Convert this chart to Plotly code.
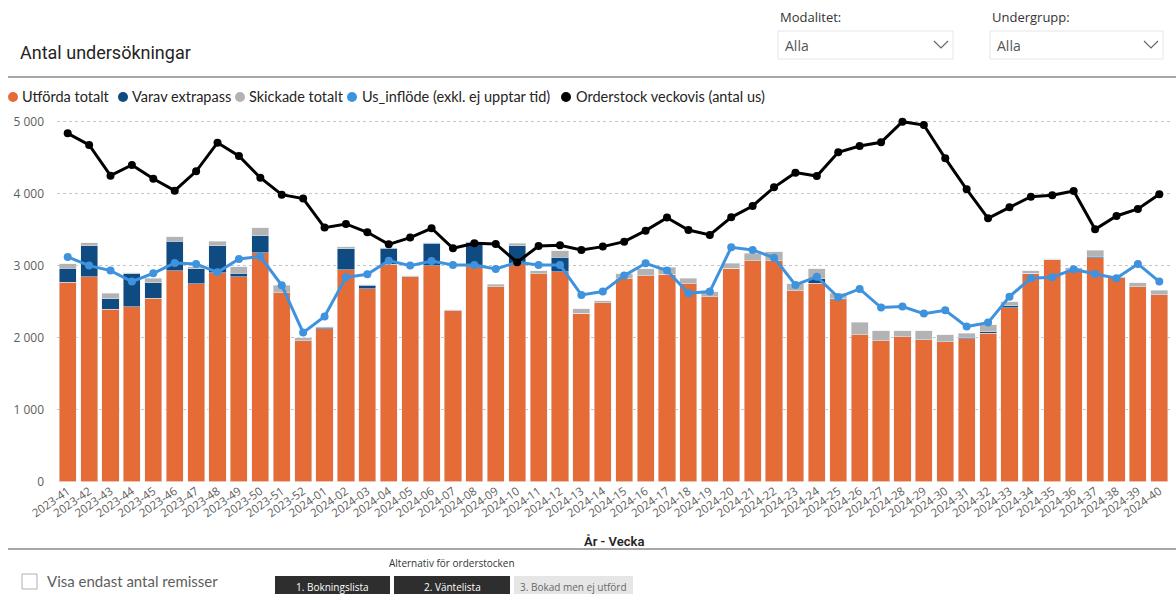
import plotly.graph_objects as go

W, H = 1176, 594

weeks = ["2023-41", "2023-42", "2023-43", "2023-44", "2023-45", "2023-46", "2023-47", "2023-48",
         "2023-49", "2023-50", "2023-51", "2023-52",
         "2024-01", "2024-02", "2024-03", "2024-04", "2024-05", "2024-06", "2024-07", "2024-08",
         "2024-09", "2024-10", "2024-11", "2024-12", "2024-13", "2024-14", "2024-15", "2024-16",
         "2024-17", "2024-18", "2024-19", "2024-20", "2024-21", "2024-22", "2024-23", "2024-24",
         "2024-25", "2024-26", "2024-27", "2024-28", "2024-29", "2024-30", "2024-31", "2024-32",
         "2024-33", "2024-34", "2024-35", "2024-36", "2024-37", "2024-38", "2024-39", "2024-40"]

utforda = [2770, 2847, 2394, 2431, 2546, 2931, 2750, 2898, 2843, 3176, 2625, 1954,
           2125, 2940, 2676, 3019, 2847, 3000, 2370, 2986, 2708, 3032, 2884, 2917,
           2338, 2481, 2815, 2861, 2880, 2745, 2569, 2963, 3065, 3065, 2653, 2755,
           2523, 2037, 1958, 2014, 1968, 1944, 1981, 2060, 2417, 2894, 3088, 2926,
           3111, 2833, 2708, 2597]

extrapass = [193, 431, 143, 453, 213, 407, 204, 380, 51, 236, 0, 0,
             19, 291, 51, 222, 0, 310, 0, 338, 0, 246, 0, 199,
             0, 0, 0, 0, 0, 0, 0, 0, 0, 0, 0, 60,
             19, 0, 0, 0, 0, 0, 24, 23, 27, 0, 0, 0,
             19, 0, 0, 0]

skickade = [60, 41, 79, 15, 65, 65, 32, 60, 92, 111, 102, 46,
            9, 33, 5, 9, 14, 5, 14, 5, 33, 32, 47, 92,
            60, 33, 69, 93, 97, 79, 70, 69, 106, 129, 92, 143,
            74, 176, 135, 79, 129, 93, 55, 93, 51, 37, 9, 46,
            83, 9, 56, 60]

inflode = [3120, 3000, 2931, 2778, 2894, 3037, 3023, 2907, 3093, 3125, 2727, 2069,
           2292, 2838, 2880, 3069, 3000, 3065, 3009, 3009, 2954, 3046, 3009, 3009,
           2593, 2639, 2861, 3032, 2931, 2616, 2639, 3255, 3218, 3111, 2731, 2847,
           2560, 2676, 2417, 2431, 2333, 2380, 2153, 2208, 2569, 2824, 2838, 2949,
           2884, 2824, 3023, 2778]

orderstock = [4838, 4676, 4250, 4398, 4208, 4042, 4310, 4708, 4523, 4222, 3986, 3931,
              3528, 3579, 3463, 3296, 3389, 3519, 3241, 3310, 3301, 3046, 3273, 3282,
              3218, 3264, 3333, 3486, 3667, 3495, 3426, 3671, 3829, 4088, 4292, 4245,
              4574, 4662, 4713, 5000, 4954, 4491, 4060, 3657, 3810, 3958, 3977, 4037,
              3505, 3690, 3787, 3991]

y_ticks = [0, 1000, 2000, 3000, 4000, 5000]
y_tick_text = ["0", "1 000", "2 000", "3 000", "4 000", "5 000"]

series_names = ["Utförda totalt", "Varav extrapass", "Skickade totalt",
                "Us_inflöde (exkl. ej upptar tid)", "Orderstock veckovis (antal us)"]
colors = ["#E66C37", "#0F4A80", "#B3B3B3", "#3F93DE", "#000000"]

FONT = "Open Sans"
LEG_FONT = "Lato"
TICK_COLOR = "#605E5C"
TEXT_DARK = "#252423"


def X(px):
    return px / W


def Y(py):
    return 1 - py / H


fig = go.Figure()
fig.add_trace(go.Bar(x=weeks, y=utforda, name=series_names[0], marker_color=colors[0]))
fig.add_trace(go.Bar(x=weeks, y=extrapass, name=series_names[1], marker_color=colors[1]))
fig.add_trace(go.Bar(x=weeks, y=skickade, name=series_names[2], marker_color=colors[2]))
fig.add_trace(go.Scatter(x=weeks, y=inflode, name=series_names[3], mode="lines+markers",
                         line=dict(color=colors[3], width=3), marker=dict(size=8, color=colors[3])))
fig.add_trace(go.Scatter(x=weeks, y=orderstock, name=series_names[4], mode="lines+markers",
                         line=dict(color=colors[4], width=3), marker=dict(size=8, color=colors[4])))

y_top_px, y_bot_px = 114.5, 481.5
fig.update_layout(
    width=W, height=H, autosize=False,
    margin=dict(l=0, r=0, t=0, b=0, autoexpand=False),
    paper_bgcolor="white", plot_bgcolor="white",
    barmode="stack", bargap=0.2,
    showlegend=False,
    font=dict(family=FONT, color=TEXT_DARK),
    xaxis=dict(type="category", domain=[X(57), X(1170)], range=[-0.5, len(weeks) - 0.5],
               tickangle=-35, automargin=False,
               tickfont=dict(size=11.5, color=TICK_COLOR, family=FONT),
               showgrid=False, showline=False, ticks="", anchor="y"),
    yaxis=dict(domain=[Y(y_bot_px), Y(y_top_px)], range=[0, 5100], automargin=False,
               tickvals=y_ticks, ticktext=y_tick_text,
               tickfont=dict(size=12, color=TICK_COLOR, family=FONT),
               showgrid=True, gridcolor="#C8C6C4", griddash="dot", gridwidth=1,
               zeroline=False, showline=False, ticks="", ticklabelstandoff=12),
)

shapes = []
annotations = []

# title
annotations.append(dict(x=X(18), y=Y(52), xref="paper", yref="paper", xanchor="left", yanchor="middle",
                        text="Antal undersökningar", showarrow=False,
                        font=dict(size=18, color=TEXT_DARK, family="Roboto")))

# slicers
for label, x0, x1 in [("Modalitet:", 778, 953), ("Undergrupp:", 990, 1163)]:
    annotations.append(dict(x=X(x0), y=Y(17), xref="paper", yref="paper", xanchor="left", yanchor="middle",
                            text=label, showarrow=False, font=dict(size=13, color="#333333", family=FONT)))
    shapes.append(dict(type="rect", xref="paper", yref="paper", x0=X(x0), x1=X(x1), y0=Y(59), y1=Y(31),
                       line=dict(color="#E6E6E6", width=1), fillcolor="white"))
    annotations.append(dict(x=X(x0 + 5), y=Y(46), xref="paper", yref="paper", xanchor="left", yanchor="middle",
                            text="Alla", showarrow=False, font=dict(size=14, color="#555555", family=FONT)))
    cx = x1 - 12
    shapes.append(dict(type="path", xref="paper", yref="paper",
                       path=f"M {X(cx-7)} {Y(41)} L {X(cx)} {Y(48)} L {X(cx+7)} {Y(41)}",
                       line=dict(color="#666666", width=1.2)))

# separator lines
for yy in (77, 549):
    shapes.append(dict(type="line", xref="paper", yref="paper", x0=X(8), x1=X(1176), y0=Y(yy), y1=Y(yy),
                       line=dict(color="#8A8A8A", width=1.5)))

# legend
legend_pos = [(13, 20), (123, 130), (240, 247), (352, 360), (566, 574)]
for (dx, tx), name, col in zip(legend_pos, series_names, colors):
    shapes.append(dict(type="circle", xref="paper", yref="paper", x0=X(dx - 5), x1=X(dx + 5),
                       y0=Y(102), y1=Y(92), fillcolor=col, line=dict(width=0)))
    annotations.append(dict(x=X(tx), y=Y(97), xref="paper", yref="paper", xanchor="left", yanchor="middle",
                            text=name, showarrow=False, font=dict(size=14.5, color=TEXT_DARK, family=LEG_FONT)))

# axis title
annotations.append(dict(x=X(614), y=Y(541), xref="paper", yref="paper", xanchor="center", yanchor="middle",
                        text="År - Vecka", showarrow=False,
                        font=dict(size=13, color=TEXT_DARK, family="Roboto", weight=600)))

# checkbox
shapes.append(dict(type="rect", xref="paper", yref="paper", x0=X(22), x1=X(37), y0=Y(589), y1=Y(574),
                   line=dict(color="#B0B0B0", width=1), fillcolor="white"))
annotations.append(dict(x=X(45), y=Y(581), xref="paper", yref="paper", xanchor="left", yanchor="middle",
                        text="Visa endast antal remisser", showarrow=False,
                        font=dict(size=15, color="#605E5C", family=LEG_FONT)))

# buttons
annotations.append(dict(x=X(452), y=Y(563), xref="paper", yref="paper", xanchor="center", yanchor="middle",
                        text="Alternativ för orderstocken", showarrow=False,
                        font=dict(size=10, color="#333333", family=FONT)))
buttons = [("1. Bokningslista", 275, 390, "#2E2E2E", "white"),
           ("2. Väntelista", 394, 510, "#2E2E2E", "white"),
           ("3. Bokad men ej utförd", 514, 633, "#E6E6E6", "#666666")]
for txt, x0, x1, fill, fc in buttons:
    shapes.append(dict(type="rect", xref="paper", yref="paper", x0=X(x0), x1=X(x1), y0=Y(600), y1=Y(576),
                       line=dict(width=0), fillcolor=fill))
    annotations.append(dict(x=X((x0 + x1) / 2), y=Y(587), xref="paper", yref="paper", xanchor="center",
                            yanchor="middle", text=txt, showarrow=False,
                            font=dict(size=10, color=fc, family=FONT)))

fig.update_layout(shapes=shapes, annotations=annotations)
fig.write_html("out.html", config={"displayModeBar": False},
               post_script="document.body.style.margin='0';document.body.style.overflow='hidden';")
